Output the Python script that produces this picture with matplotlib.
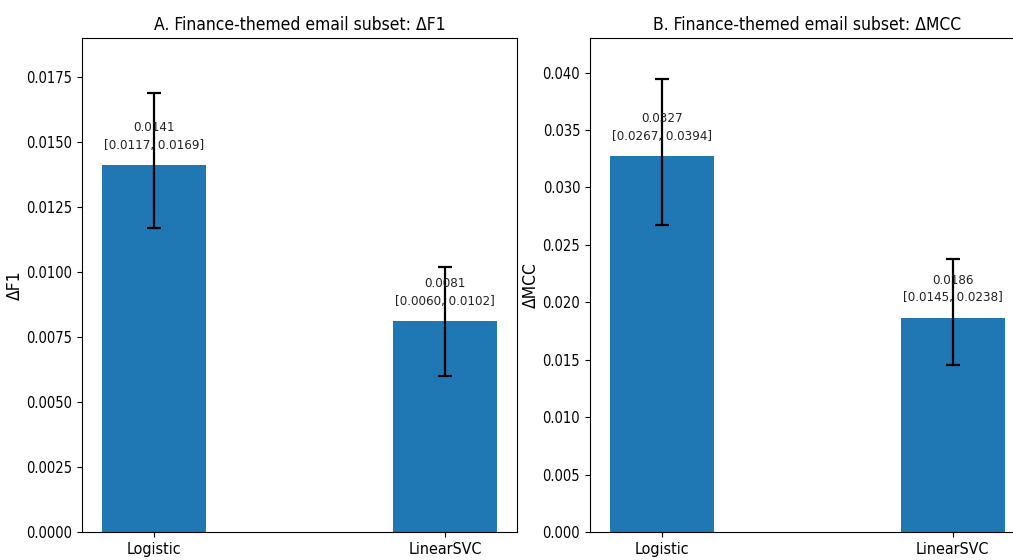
import matplotlib
matplotlib.use("Agg")
import matplotlib.pyplot as plt

plt.rcParams['font.family'] = ['DejaVu Sans']
plt.rcParams['font.stretch'] = 'condensed'

models = ["Logistic", "LinearSVC"]

# delta F1 with 95% CI
f1_delta = [0.0141, 0.0081]
f1_lo = [0.0117, 0.0060]
f1_hi = [0.0169, 0.0102]

# delta MCC with 95% CI
mcc_delta = [0.0327, 0.0186]
mcc_lo = [0.0267, 0.0145]
mcc_hi = [0.0394, 0.0238]

fig = plt.figure(figsize=(10.13, 5.6), dpi=100)
ax1 = fig.add_axes([0.081, 0.05, 0.4294, 0.882])
ax2 = fig.add_axes([0.5824, 0.05, 0.4294, 0.882])


def draw_panel(ax, vals, lo, hi, title, ylabel, ymax):
    x = list(range(len(models)))
    err = [[v - l for v, l in zip(vals, lo)], [h - v for v, h in zip(vals, hi)]]
    ax.bar(x, vals, width=0.36, color="#1f77b4")
    ax.errorbar(x, vals, yerr=err, fmt="none", ecolor="black",
                elinewidth=1.6, capsize=5, capthick=1.6)
    for xi, v, l, h in zip(x, vals, lo, hi):
        ax.annotate(f"{v:.4f}\n[{l:.4f}, {h:.4f}]", (xi, v),
                    xytext=(0, 10), textcoords="offset points",
                    ha="center", va="bottom", fontsize=9.5,
                    linespacing=1.45, multialignment="center",
                    color="#222222")
    ax.set_xticks(x)
    ax.set_xticklabels(models, fontsize=11.5)
    ax.tick_params(axis="y", labelsize=10.5)
    ax.set_ylim(0, ymax)
    ax.set_title(title, fontsize=12.5)
    ax.set_ylabel(ylabel, fontsize=12.5, labelpad=2)


draw_panel(ax1, f1_delta, f1_lo, f1_hi,
           "A. Finance-themed email subset: ΔF1", "ΔF1", 0.0190)
draw_panel(ax2, mcc_delta, mcc_lo, mcc_hi,
           "B. Finance-themed email subset: ΔMCC", "ΔMCC", 0.0430)

fig.savefig("out.png", dpi=100)
